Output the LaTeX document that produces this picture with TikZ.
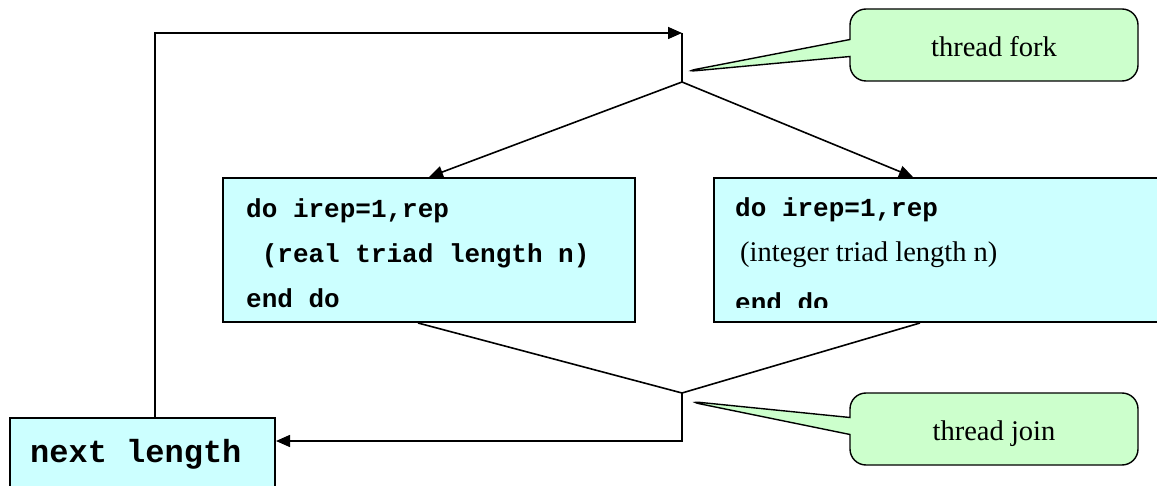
\documentclass[tikz,border=0pt]{standalone}
\usepackage{fontspec}
\setmainfont{Liberation Serif}
\newfontfamily\codefont{Liberation Mono}
\usetikzlibrary{arrows.meta}
\usetikzlibrary{shapes.callouts}
\definecolor{boxcyan}{HTML}{CCFFFF}
\definecolor{notegreen}{HTML}{CCFFCC}
\tikzset{
	loopbox/.style={draw, line width=2pt, fill=boxcyan, anchor=north west, inner sep=0pt},
	codeline/.style={anchor=base west, inner sep=0pt, font=\codefont\bfseries\fontsize{26}{30}\selectfont},
	flow/.style={line width=1.6pt},
	flowarrow/.style={flow, -{Triangle[length=14pt,width=12pt]}},
	threadnote/.style={rectangle callout, draw, line width=1.4pt, fill=notegreen, rounded corners=16pt,
		minimum width=288pt, minimum height=72pt, callout pointer width=17pt,
		font=\fontsize{28.5}{34}\selectfont, text height=23pt, text depth=0pt}
}

\begin{document}
\begin{tikzpicture}[x=1pt, y=-1pt]
%%%%%%%%%%%%%%%%%%
\useasboundingbox (0,0) rectangle (1157,486);
\clip (0,0) rectangle (1157,486);

%Loop boxes
	\node[loopbox, minimum width=412pt, minimum height=144pt] (realbox) at (222,177) {};
	\node[loopbox, minimum width=460pt, minimum height=144pt] (intbox) at (713,177) {};
	\node[loopbox, minimum width=265pt, minimum height=100pt] (nextbox) at (9,417) {};

%Box texts
	\node[codeline] (realdo) at (246,218) {do irep=1,rep};
	\node[codeline] (realbody) at (246,263) {\ (real triad length n)};
	\node[codeline] (realend) at (246,308) {end do};
	\node[codeline] (intdo) at (735,217) {do irep=1,rep};
	\node[anchor=base west, inner sep=0pt, font=\fontsize{28.5}{34}\selectfont] (intbody) at (740,262) {(integer triad length n)};
	\begin{scope}
		\clip (713,177) rectangle (1157,308);
		\node[codeline] (intend) at (735,312) {end do};
	\end{scope}
	\node[codeline, font=\codefont\bfseries\fontsize{32}{36}\selectfont] (nexttxt) at (30,462) {next length};

% Fork and join points
	\coordinate (loopin) at (682,33);
	\coordinate (fork) at (682,82);
	\coordinate (join) at (682,393);
	\coordinate (joinout) at (682,441);

% Connect boxes
	\draw[flowarrow] ([xshift=12.5pt]nextbox.north) |- (loopin);
	\draw[flow] (loopin) -- (fork);
	\draw[flowarrow] (fork) -- (realbox.north);
	\draw[flowarrow] (fork) -- ([xshift=200pt]intbox.north west);
	\draw[flow] ([xshift=-11pt]realbox.south) -- (join) -- ([xshift=207pt]intbox.south west);
	\draw[flowarrow] (join) -- (joinout) -- (nextbox.east |- joinout);

%Callouts
	\coordinate (forktip) at (682,72);
	\coordinate (jointip) at (686,401);
	\node[threadnote, callout absolute pointer=(forktip)] (forknote) at (994,45) {thread fork};
	\node[threadnote, callout absolute pointer=(jointip)] (joinnote) at (994,429) {thread join};

\end{tikzpicture}
\end{document}
